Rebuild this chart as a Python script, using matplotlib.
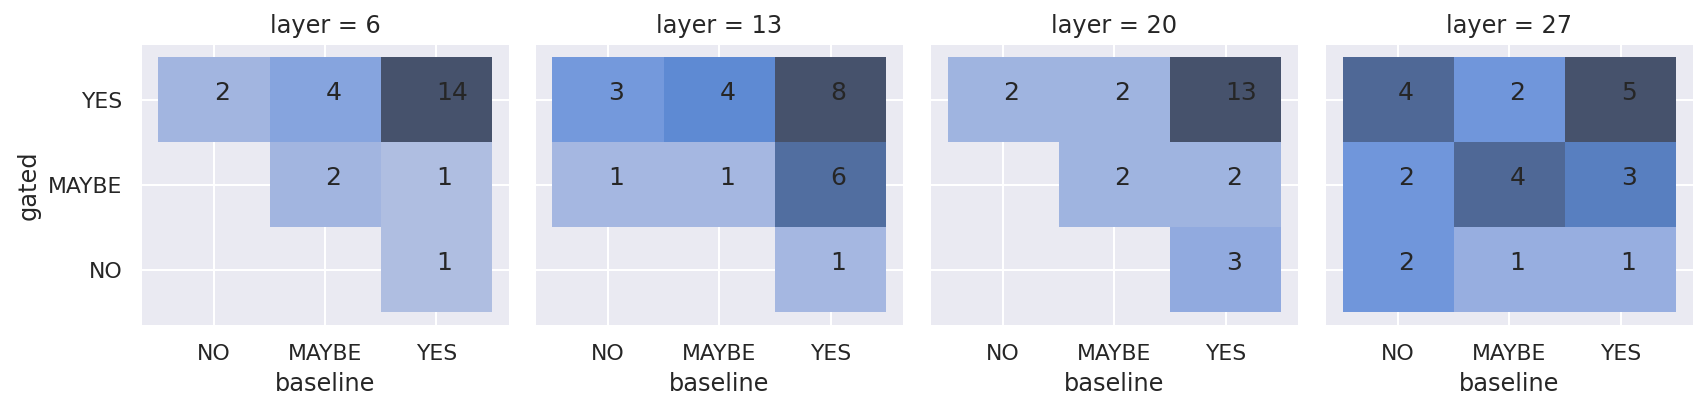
import numpy as np
import matplotlib
matplotlib.use("Agg")
import matplotlib.pyplot as plt
import matplotlib.colors as mcolors
import seaborn as sns
from seaborn.external import husl

sns.set_theme()
plt.rcParams['font.family'] = ['DejaVu Sans']

categories = ["NO", "MAYBE", "YES"]
layers = [6, 13, 20, 27]
# counts[layer][gated_index][baseline_index]; gated rows: NO, MAYBE, YES
counts_6 = [[0, 0, 1],
            [0, 2, 1],
            [2, 4, 14]]
counts_13 = [[0, 0, 1],
             [1, 1, 6],
             [3, 4, 8]]
counts_20 = [[0, 0, 3],
             [0, 2, 2],
             [2, 2, 13]]
counts_27 = [[2, 1, 1],
             [2, 4, 3],
             [4, 2, 5]]
all_counts = [counts_6, counts_13, counts_20, counts_27]


def cmap_from_color(color):
    r, g, b, _ = mcolors.to_rgba(color)
    h, s, _ = husl.rgb_to_husl(r, g, b)
    xx = np.linspace(-1, 1, int(1.15 * 256))[:256]
    ramp = np.zeros((256, 3))
    ramp[:, 0] = h
    ramp[:, 1] = s * np.cos(xx)
    ramp[:, 2] = np.linspace(35, 80, 256)
    colors = np.clip([husl.husl_to_rgb(*hsl) for hsl in ramp], 0, 1)
    return mcolors.ListedColormap(colors[::-1])


cmap = cmap_from_color(sns.color_palette()[0])

W, H = 1706, 411
dpi = 144
fig = plt.figure(figsize=((W + 0.3) / dpi, (H + 0.3) / dpi), dpi=dpi)

lefts = [141.7, 535.7, 930.7, 1325.7]
aw, top, bottom = 367, 45, 325
edges = np.arange(len(categories) + 1) - 0.5

for i, (layer, counts) in enumerate(zip(layers, all_counts)):
    ax = fig.add_axes([lefts[i] / W, (H - bottom) / H, aw / W, (bottom - top) / H])
    arr = np.array(counts, dtype=float)
    masked = np.ma.masked_less_equal(arr, 0)
    ax.pcolormesh(edges, edges, masked, cmap=cmap, vmin=0, vmax=arr.max())
    for gi in range(len(categories)):
        for bi in range(len(categories)):
            if arr[gi, bi] > 0:
                ax.text(bi, gi, str(int(arr[gi, bi])), fontsize=12.5, color=".15")
    ax.set_xlim(-0.65, 2.65)
    ax.set_ylim(-0.65, 2.65)
    ax.set_xticks(range(len(categories)))
    ax.set_xticklabels(categories)
    ax.set_yticks(range(len(categories)))
    if i == 0:
        ax.set_yticklabels(categories)
        ax.set_ylabel("gated")
    else:
        ax.set_yticklabels([])
        ax.tick_params(axis="y", length=0)
    ax.set_xlabel("baseline")
    ax.set_title(f"layer = {layer}")
    for s in ax.spines.values():
        s.set_visible(False)

fig.savefig("out.png", dpi=dpi)
